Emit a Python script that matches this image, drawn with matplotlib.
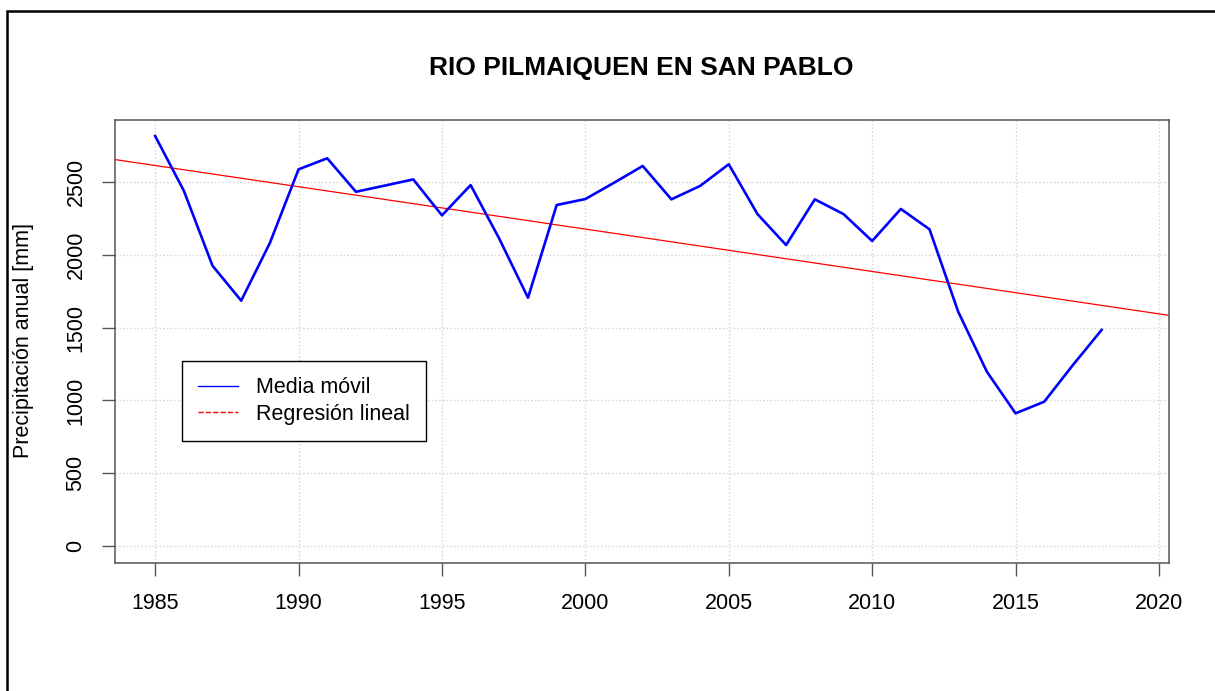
import numpy as np
import matplotlib
matplotlib.use("Agg")
import matplotlib.pyplot as plt
from matplotlib.lines import Line2D
from matplotlib.patches import Rectangle

plt.rcParams["font.family"] = ["Liberation Sans", "DejaVu Sans"]

# Data
years = list(range(1985, 2019))
media_movil = [2816, 2440, 1925, 1685, 2081, 2587, 2663, 2433, 2475, 2518,
               2271, 2479, 2110, 1705, 2342, 2383, 2495, 2610, 2381, 2473,
               2622, 2280, 2067, 2381, 2280, 2095, 2315, 2175, 1609, 1197,
               911, 991, 1243, 1484]
x_ticks = [1985, 1990, 1995, 2000, 2005, 2010, 2015, 2020]
y_ticks = [0, 500, 1000, 1500, 2000, 2500]

title = "RIO PILMAIQUEN EN SAN PABLO"
ylabel = "Precipitación anual [mm]"
legend_labels = ["Media móvil", "Regresión lineal"]

W, H = 1215, 691
fig = plt.figure(figsize=(W / 100, H / 100), dpi=100)

# outer frame of the device (cut off at right and bottom)
fig.patches.append(Rectangle((7 / W, -0.05), 1.1, 1 - 11 / H + 0.05,
                             transform=fig.transFigure, fill=False,
                             edgecolor="black", linewidth=1.8))

ax = fig.add_axes([115 / W, 1 - 563 / H, (1169 - 115) / W, (563 - 120) / H])

ax.set_xlim(1983.6, 2020.35)
ax.set_ylim(-117, 2926)

ax.grid(True, color="lightgray", linestyle=":", linewidth=1)
ax.set_axisbelow(True)

ax.plot(years, media_movil, color="blue", linewidth=1.9, zorder=3)

# linear fit of the moving average, drawn across the whole axes
slope, intercept = np.polyfit(years, media_movil, 1)
ax.axline((years[0], intercept + slope * years[0]), slope=slope,
          color="red", linewidth=0.9, zorder=2)

ax.set_xticks(x_ticks)
ax.set_yticks(y_ticks)
ax.set_yticklabels([str(v) for v in y_ticks], rotation=90, va="center")
ax.tick_params(axis="both", direction="out", length=9.5, width=1,
               color="#555555", labelsize=15.5)
ax.tick_params(axis="x", pad=12)
ax.tick_params(axis="y", pad=11)

for sp in ax.spines.values():
    sp.set_color("#555555")
    sp.set_linewidth(1.1)

fig.text(24 / W, 1 - 341 / H, ylabel, fontsize=15.5, rotation=90,
         ha="center", va="center")

fig.text(641 / W, 1 - 68 / H, title, fontsize=19, fontweight="bold",
         ha="center", va="center")

handles = [Line2D([], [], color="blue", linewidth=1),
           Line2D([], [], color="red", linewidth=1, linestyle="--")]
leg = ax.legend(handles, legend_labels, loc="upper left",
                bbox_to_anchor=((182 - 115) / 1054, (563 - 361) / 443),
                borderaxespad=0, fancybox=False, framealpha=1,
                edgecolor="black", fontsize=15.5, handlelength=1.86,
                handletextpad=0.84, borderpad=0.75, labelspacing=0.25)
leg.get_frame().set_linewidth(1)

fig.savefig("out.png", dpi=100)
